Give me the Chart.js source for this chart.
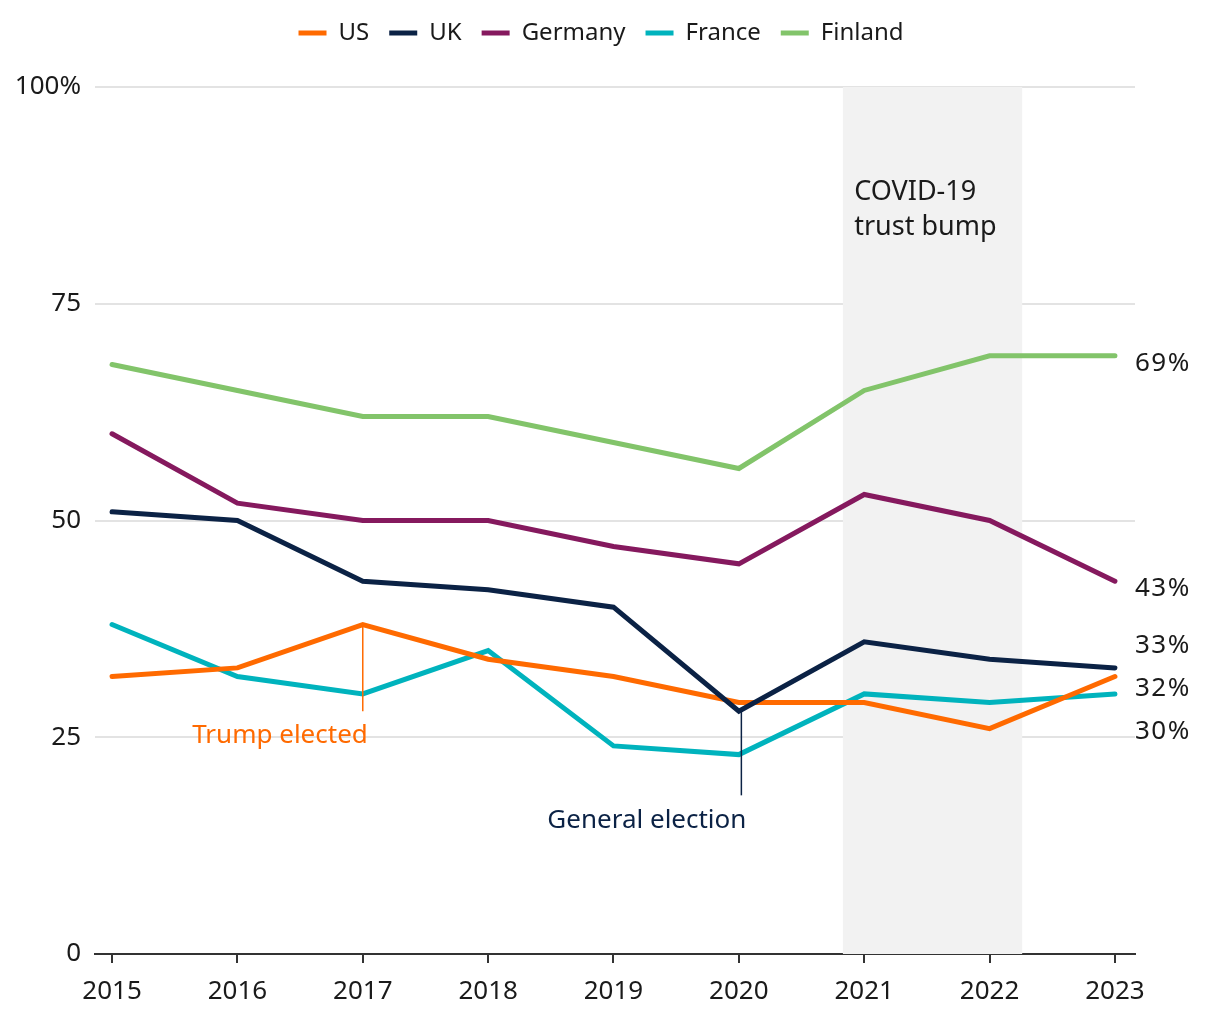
<!DOCTYPE html>
<html>
<head>
<meta charset="utf-8">
<script src="https://cdn.jsdelivr.net/npm/chart.js@4.4.1/dist/chart.umd.min.js"></script>
<style>
  html, body { margin: 0; padding: 0; background: #fff; }
  #wrap { width: 1220px; height: 1020px; }
</style>
</head>
<body>
<div id="wrap"><canvas id="chart" width="1220" height="1020"></canvas></div>
<script>
// years and trust levels (%)
const years = [2015, 2016, 2017, 2018, 2019, 2020, 2021, 2022, 2023];
const us      = [32, 33, 38, 34, 32, 29, 29, 26, 32];
const uk      = [51, 50, 43, 42, 40, 28, 36, 34, 33];
const germany = [60, 52, 50, 50, 47, 45, 53, 50, 43];
const france  = [38, 32, 30, 35, 24, 23, 30, 29, 30];
const finland = [68, 65, 62, 62, 59, 56, 65, 69, 69];

const yTicks = [0, 25, 50, 75, 100];
const yTickLabels = ['0', '25', '50', '75', '100%'];

// end labels: text and y position (in %) so they don't overlap
const endLabels = ['69%', '43%', '33%', '32%', '30%'];
const endLabelY = [68.1, 42.2, 35.6, 30.6, 25.7];

// shaded band for the covid period
const covidBand = [2020.83, 2022.26];

const FONT = '"Noto Sans", sans-serif';
const TEXT = '#1a1a1a';

const colors = {
    us: '#ff6a00',
    uk: '#0b2245',
    germany: '#85195e',
    france: '#00b3bd',
    finland: '#82c46a'
};

function toPoints(vals) {
    return vals.map((v, i) => ({ x: years[i], y: v }));
}

function series(label, vals, color, order) {
    return {
        label: label,
        data: toPoints(vals),
        borderColor: color,
        backgroundColor: color,
        borderWidth: 5,
        borderCapStyle: 'round',
        borderJoinStyle: 'miter',
        pointRadius: 0,
        pointHoverRadius: 0,
        tension: 0,
        order: order
    };
}

// extra space under the legend
const legendSpacer = {
    id: 'legendSpacer',
    beforeInit(chart) {
        const fit = chart.legend.fit;
        chart.legend.fit = function () {
            fit.bind(chart.legend)();
            this.height += 32;
        };
    }
};

const annotationPlugin = {
    id: 'annotations',
    beforeDatasetsDraw(chart) {
        const { ctx, chartArea, scales: { x, y } } = chart;
        const x0 = x.getPixelForValue(covidBand[0]);
        const x1 = x.getPixelForValue(covidBand[1]);
        ctx.save();
        ctx.fillStyle = '#f2f2f2';
        ctx.fillRect(x0, chartArea.top, x1 - x0, chartArea.bottom - chartArea.top);

        // y tick labels (drawn here so they are not clipped by the narrow axis box)
        ctx.font = '26px ' + FONT;
        ctx.fillStyle = TEXT;
        ctx.textAlign = 'right';
        ctx.textBaseline = 'middle';
        yTicks.forEach((v, i) => {
            ctx.fillText(yTickLabels[i], chartArea.left - 14, y.getPixelForValue(v));
        });
        ctx.restore();
    },
    afterDatasetsDraw(chart) {
        const { ctx, scales: { x, y } } = chart;
        ctx.save();

        // Trump elected
        ctx.strokeStyle = colors.us;
        ctx.lineWidth = 1.5;
        ctx.beginPath();
        ctx.moveTo(x.getPixelForValue(2017), y.getPixelForValue(38));
        ctx.lineTo(x.getPixelForValue(2017), y.getPixelForValue(28));
        ctx.stroke();
        ctx.font = '26px ' + FONT;
        ctx.fillStyle = colors.us;
        ctx.textAlign = 'right';
        ctx.textBaseline = 'middle';
        ctx.fillText('Trump elected', x.getPixelForValue(2017.04), y.getPixelForValue(25.2));

        // General election
        ctx.strokeStyle = colors.uk;
        ctx.beginPath();
        ctx.moveTo(x.getPixelForValue(2020.02), y.getPixelForValue(28));
        ctx.lineTo(x.getPixelForValue(2020.02), y.getPixelForValue(18.3));
        ctx.stroke();
        ctx.fillStyle = colors.uk;
        ctx.fillText('General election', x.getPixelForValue(2020.06), y.getPixelForValue(15.4));

        // covid text
        ctx.fillStyle = TEXT;
        ctx.textAlign = 'left';
        ctx.font = '27px ' + FONT;
        ctx.fillText('COVID-19', x.getPixelForValue(2020.92), y.getPixelForValue(87.8));
        ctx.fillText('trust bump', x.getPixelForValue(2020.92), y.getPixelForValue(83.8));

        // end labels
        ctx.font = '26px ' + FONT;
        ctx.letterSpacing = '1.5px';
        endLabels.forEach((t, i) => {
            ctx.fillText(t, x.right, y.getPixelForValue(endLabelY[i]));
        });
        ctx.restore();
    }
};

new Chart(document.getElementById('chart'), {
    type: 'line',
    data: {
        datasets: [
            series('US', us, colors.us, 2),
            series('UK', uk, colors.uk, 1),
            series('Germany', germany, colors.germany, 4),
            series('France', france, colors.france, 3),
            series('Finland', finland, colors.finland, 5)
        ]
    },
    options: {
        responsive: false,
        animation: false,
        layout: { padding: { left: 67, right: 85, top: 1, bottom: 0 } },
        plugins: {
            tooltip: { enabled: false },
            legend: {
                position: 'top',
                labels: {
                    usePointStyle: true,
                    pointStyle: 'line',
                    pointStyleWidth: 28,
                    boxHeight: 24,
                    padding: 20,
                    color: TEXT,
                    font: { family: FONT, size: 24 },
                    sort: (a, b) => a.datasetIndex - b.datasetIndex
                }
            }
        },
        scales: {
            x: {
                type: 'linear',
                min: 2014.864,
                max: 2023.16,
                afterBuildTicks: (scale) => {
                    scale.ticks = years.map(v => ({ value: v }));
                },
                afterFit: (scale) => { scale.height = 66; },
                border: { display: true, color: '#333', width: 2 },
                grid: { drawOnChartArea: false, drawTicks: true, tickLength: 9, color: '#333', lineWidth: 2 },
                ticks: {
                    color: TEXT,
                    font: { family: FONT, size: 26 },
                    padding: 13,
                    maxRotation: 0,
                    autoSkip: false,
                    callback: (v) => String(v)
                }
            },
            y: {
                min: 0,
                max: 100,
                afterBuildTicks: (scale) => {
                    scale.ticks = yTicks.map(v => ({ value: v }));
                },
                afterFit: (scale) => { scale.width = 28; },
                border: { display: false },
                grid: { color: '#e3e3e3', lineWidth: 2, drawTicks: false },
                ticks: { display: false }
            }
        }
    },
    plugins: [legendSpacer, annotationPlugin]
});
</script>
</body>
</html>
